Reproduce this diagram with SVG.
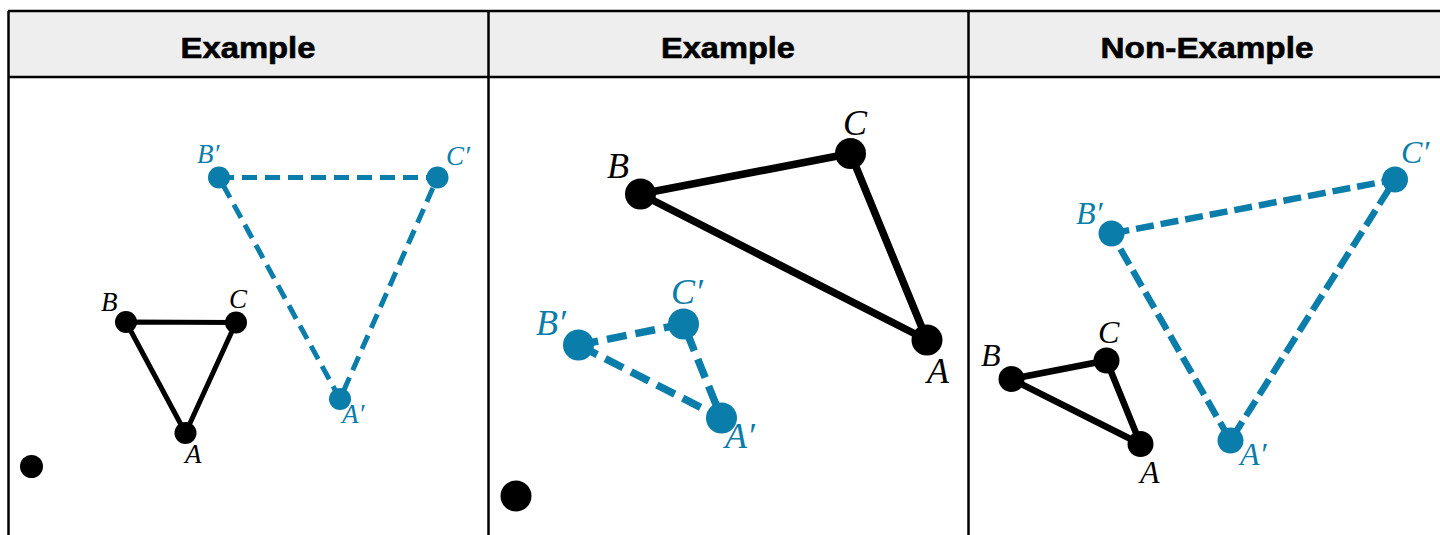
<svg xmlns="http://www.w3.org/2000/svg" width="1440" height="535" viewBox="0 0 1440 535">
<style>
.hdr{fill:#eeeeee}
.grid{stroke:#000;stroke-width:2.5;fill:none}
.title{font-family:"Liberation Sans",Arial,sans-serif;font-weight:bold;font-size:29px;fill:#000;text-anchor:middle;stroke:#000;stroke-width:0.6}
.lbl{font-family:"Liberation Serif","Times New Roman",Times,serif;font-style:italic;fill:#000}
.blbl{font-family:"Liberation Serif","Times New Roman",Times,serif;font-style:italic;fill:#0a7dab}
.k{fill:#000}
.b{fill:#0a7dab}
.sk{stroke:#000;fill:none;stroke-linejoin:round}
.sb{stroke:#0a7dab;fill:none}
</style>
<rect width="1440" height="535" fill="#fff"/>
<g id="table">
<rect class="hdr" x="8" y="11" width="1440" height="66"/>
<line class="grid" x1="8" y1="11" x2="1448" y2="11"/>
<line class="grid" x1="8" y1="77" x2="1448" y2="77"/>
<line class="grid" x1="8.5" y1="11" x2="8.5" y2="535"/>
<line class="grid" x1="488.5" y1="11" x2="488.5" y2="535"/>
<line class="grid" x1="968.5" y1="11" x2="968.5" y2="535"/>
<text class="title" x="248" y="58" textLength="135" lengthAdjust="spacingAndGlyphs">Example</text>
<text class="title" x="728" y="58" textLength="134" lengthAdjust="spacingAndGlyphs">Example</text>
<text class="title" x="1207" y="58" textLength="213" lengthAdjust="spacingAndGlyphs">Non-Example</text>
</g>
<g id="connectors">
<polygon class="sk" stroke-width="5" points="126,322 236,322.5 185.5,433"/>
<polygon class="sb" stroke-width="5" stroke-dasharray="15 8" points="219,177.5 437.5,177.5 340,399"/>
<polygon class="sk" stroke-width="7.5" points="640.5,194 850.5,153.5 927,340"/>
<polygon class="sb" stroke-width="7.5" stroke-dasharray="20 9" points="578.5,345 683.5,324 721.5,418"/>
<polygon class="sk" stroke-width="6.5" points="1011.5,379 1106.5,360.5 1140.5,444"/>
<polygon class="sb" stroke-width="6.5" stroke-dasharray="18 7" points="1111.5,233.5 1395,179.5 1230.5,440.5"/>
</g>
<g id="panel1">
<circle class="k" cx="31.5" cy="466.5" r="11.5"/>
<circle class="k" cx="126" cy="322" r="11"/>
<circle class="k" cx="236" cy="322.5" r="11"/>
<circle class="k" cx="185.5" cy="433" r="11"/>
<circle class="b" cx="219" cy="177.5" r="11"/>
<circle class="b" cx="437.5" cy="177.5" r="11"/>
<circle class="b" cx="340" cy="399" r="11"/>
<text class="lbl" x="101" y="311" font-size="27">B</text>
<text class="lbl" x="229" y="308" font-size="27">C</text>
<text class="lbl" x="185" y="463" font-size="27">A</text>
<text class="blbl" x="197" y="163" font-size="27">B′</text>
<text class="blbl" x="446" y="165" font-size="27">C′</text>
<text class="blbl" x="342" y="422.5" font-size="27">A′</text>
</g>
<g id="panel2">
<circle class="k" cx="516" cy="496" r="15.5"/>
<circle class="k" cx="640.5" cy="194" r="15.5"/>
<circle class="k" cx="850.5" cy="153.5" r="15.5"/>
<circle class="k" cx="927" cy="340" r="15.5"/>
<circle class="b" cx="578.5" cy="345" r="15.5"/>
<circle class="b" cx="683.5" cy="324" r="15.5"/>
<circle class="b" cx="721.5" cy="418" r="15.5"/>
<text class="lbl" x="607" y="178" font-size="36">B</text>
<text class="lbl" x="843" y="135" font-size="36">C</text>
<text class="lbl" x="927" y="382.5" font-size="36">A</text>
<text class="blbl" x="536" y="335" font-size="36">B′</text>
<text class="blbl" x="671" y="304" font-size="36">C′</text>
<text class="blbl" x="725" y="448" font-size="36">A′</text>
</g>
<g id="panel3">
<circle class="k" cx="1011.5" cy="379" r="13"/>
<circle class="k" cx="1106.5" cy="360.5" r="13"/>
<circle class="k" cx="1140.5" cy="444" r="13"/>
<circle class="b" cx="1111.5" cy="233.5" r="13"/>
<circle class="b" cx="1395" cy="179.5" r="13"/>
<circle class="b" cx="1230.5" cy="440.5" r="13"/>
<text class="lbl" x="981" y="366" font-size="32">B</text>
<text class="lbl" x="1098" y="343" font-size="32">C</text>
<text class="lbl" x="1140" y="482.5" font-size="32">A</text>
<text class="blbl" x="1076" y="224" font-size="32">B′</text>
<text class="blbl" x="1401" y="162.5" font-size="32">C′</text>
<text class="blbl" x="1240" y="465" font-size="32">A′</text>
</g>
</svg>
